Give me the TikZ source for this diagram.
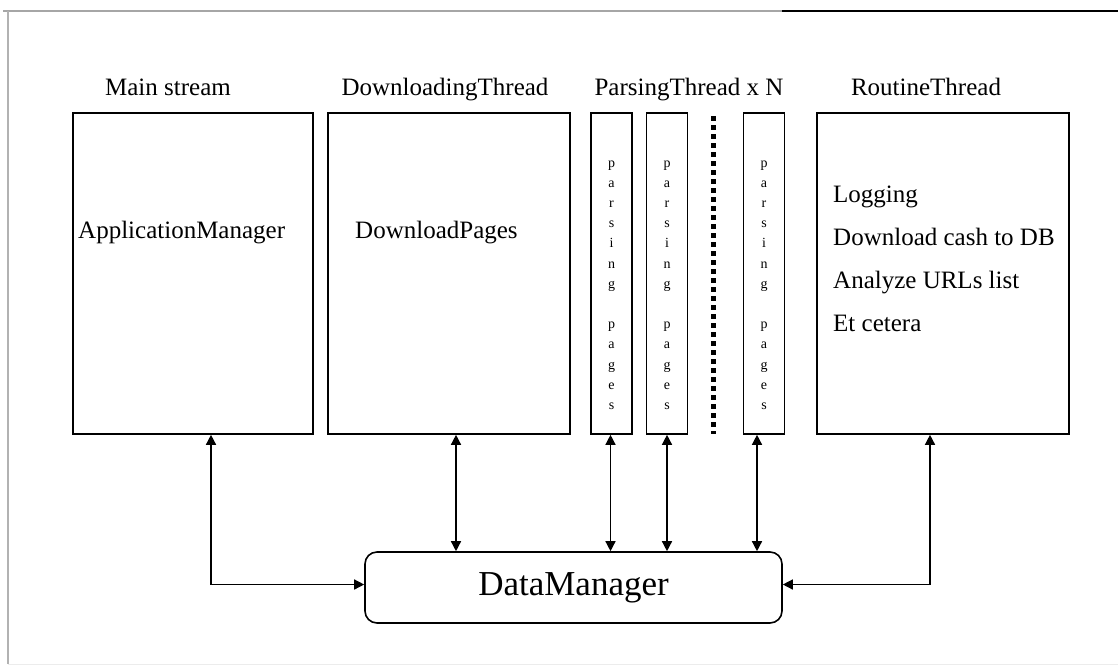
\documentclass[tikz,border=0pt]{standalone}
\usepackage{fontspec}
\setmainfont{Liberation Serif}
\usepackage{tikz}
\usetikzlibrary{arrows.meta, positioning}
\tikzstyle{arrow} = [line width=1.4pt,<->,>={Triangle[length=10pt,width=10pt]}]
\tikzstyle{thread} = [rectangle, draw=black, line width=1.6pt, minimum height=321pt, inner sep=0pt]
\tikzstyle{parser} = [thread, minimum width=41pt]
\tikzstyle{title} = [font=\fontsize{25}{30}\selectfont, anchor=base]
\tikzstyle{task} = [font=\fontsize{25}{30}\selectfont, anchor=base west, inner sep=0pt]
\tikzstyle{vtext} = [align=center, font=\fontsize{14}{20.2}\selectfont, inner sep=0pt]
\tikzstyle{manager} = [rectangle, rounded corners=12pt, draw=black, line width=1.6pt, minimum width=417pt, minimum height=71pt, font=\fontsize{35}{40}\selectfont]
\tikzstyle{dots} = [line width=5pt, dash pattern=on 5pt off 4pt]
\newcommand{\parsetext}{p\\a\\r\\s\\i\\n\\g\\\mbox{}\\p\\a\\g\\e\\s}

\begin{document}
\begin{tikzpicture}[x=1pt,y=-1pt]
\useasboundingbox (0,0) rectangle (1118,670);
% frame of the screenshot
\draw[gray!70, line width=1.5pt] (3,11) -- (782,11);
\draw[black, line width=1.5pt] (782,11) -- (1118,11);
\draw[gray!60, line width=1.5pt] (8,11) -- (8,664);
\draw[gray!15, line width=1pt] (8,664) -- (1118,664);

% thread boxes
\node (main) [thread, minimum width=240pt] at (193,273.5) {};
\node (dl) [thread, minimum width=242pt] at (449,273.5) {};
\node (p1) [parser] at (611.5,273.5) {};
\node (p2) [parser] at (667,273.5) {};
\node (p3) [parser] at (764,273.5) {};
\node (rt) [thread, minimum width=252pt] at (943,273.5) {};
\coordinate (dotTop) at (713,116);
\coordinate (dotBot) at (713,434);
\draw[dots] (dotTop) -- (dotBot);

% titles
\node (tmain) [title] at (168,95) {Main stream};
\node (tdl) [title] at (445,95) {DownloadingThread};
\node (tparse) [title] at (689,95) {ParsingThread x N};
\node (trt) [title] at (926,95) {RoutineThread};

% contents
\node (appm) [task] at (78,238) {ApplicationManager};
\node (dlp) [task] at (355,238) {DownloadPages};
\node (log) [task] at (833,202) {Logging};
\node (cash) [task] at (833,245) {Download cash to DB};
\node (urls) [task] at (833,288) {Analyze URLs list};
\node (etc) [task] at (833,331) {Et cetera};
\node (t1) [vtext] at (611.5,285) {\parsetext};
\node (t2) [vtext] at (667,285) {\parsetext};
\node (t3) [vtext] at (764,285) {\parsetext};

% data manager
\node (dm) [manager] at (573.5,587.5) {DataManager};

\draw [arrow] ([xshift=18pt]main.south) |- ([yshift=3pt]dm.west);
\draw [arrow] ([xshift=7pt]dl.south) -- ([xshift=7pt]dl.south |- dm.north);
\draw [arrow] ([xshift=-1pt]p1.south) -- ([xshift=-1pt]p1.south |- dm.north);
\draw [arrow] (p2.south) -- (p2.south |- dm.north);
\draw [arrow] ([xshift=-7pt]p3.south) -- ([xshift=-7pt]p3.south |- dm.north);
\draw [arrow] ([xshift=-13pt]rt.south) |- ([yshift=3pt]dm.east);
\end{tikzpicture}
\end{document}
